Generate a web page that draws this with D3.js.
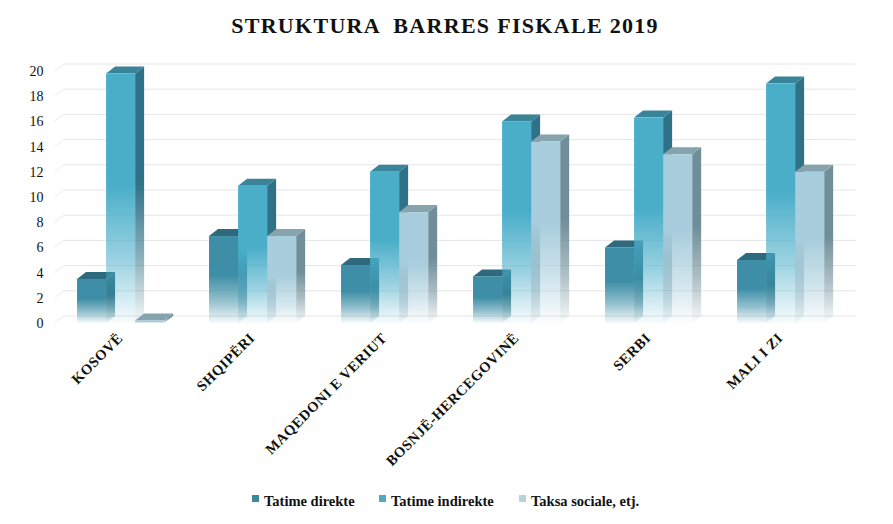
<!DOCTYPE html>
<html>
<head>
<meta charset="utf-8">
<script src="https://cdn.jsdelivr.net/npm/d3@7"></script>
<style>
  body { margin: 0; background: #fff; }
  svg text { font-family: "Liberation Serif", "DejaVu Serif", serif; fill: #111; }
</style>
</head>
<body>
<svg id="chart"></svg>
<script>
const WIDTH = 893;
const HEIGHT = 524;
const LEFT = 54.6;
const RIGHT = 846.6;
const TOP = 71;
const BOTTOM = 323;
const DEPTH_X = 9;
const DEPTH_Y = 7;
const SERIF = '"Liberation Serif", "DejaVu Serif", serif';

const countries = ['KOSOVË', 'SHQIPËRI', 'MAQEDONI E VERIUT', 'BOSNJË-HERCEGOVINË', 'SERBI', 'MALI I ZI'];
const seriesNames = ['Tatime direkte', 'Tatime indirekte', 'Taksa sociale, etj.'];
const tatimeDirekte = [3.5, 6.9, 4.6, 3.7, 6.0, 5.0];
const tatimeIndirekte = [19.8, 10.9, 12.0, 16.0, 16.3, 19.0];
const taksaSociale = [0.2, 6.9, 8.8, 14.4, 13.4, 12.0];
const yTicks = [0, 2, 4, 6, 8, 10, 12, 14, 16, 18, 20];

// front, side, top colours per series
const palette = [
    { front: '#3d8ea6', side: '#2c6d80', top: '#2d6a7d', legend: '#3a8a9e' },
    { front: '#4aaec9', side: '#2f7186', top: '#3a8499', legend: '#52a8be' },
    { front: '#a8cddc', side: '#6f8e99', top: '#86a3ae', legend: '#b7d3dc' }
];

const rows = countries.map((c, i) => ({
    country: c,
    values: [tatimeDirekte[i], tatimeIndirekte[i], taksaSociale[i]]
}));

const svg = d3.select('#chart').attr('width', WIDTH).attr('height', HEIGHT);
const defs = svg.append('defs');

palette.forEach((p, i) => {
    ['front', 'side'].forEach(face => {
        const g = defs.append('linearGradient')
            .attr('id', `grad-${face}-${i}`)
            .attr('x1', 0).attr('y1', 0).attr('x2', 0).attr('y2', 1);
        g.append('stop').attr('offset', '0%').attr('stop-color', p[face]);
        g.append('stop').attr('offset', '45%').attr('stop-color', p[face]);
        g.append('stop').attr('offset', '75%').attr('stop-color', p[face]).attr('stop-opacity', 0.55);
        g.append('stop').attr('offset', '100%').attr('stop-color', p[face]).attr('stop-opacity', 0.04);
    });
});

const x = d3.scaleBand().domain(countries).range([LEFT, RIGHT]).paddingInner(0.34).paddingOuter(0.17);
const xInner = d3.scaleBand().domain(d3.range(3)).range([0, x.bandwidth()]);
const y = d3.scaleLinear().domain([0, 20]).range([BOTTOM, TOP]);

// title
svg.append('text')
    .attr('x', 445).attr('y', 33)
    .attr('text-anchor', 'middle')
    .attr('font-family', SERIF)
    .attr('font-size', 22).attr('font-weight', 'bold')
    .attr('letter-spacing', 1.3)
    .style('white-space', 'pre')
    .text('STRUKTURA  BARRES FISKALE 2019');

// back wall gridlines
const grid = svg.append('g');
yTicks.forEach(t => {
    grid.append('line')
        .attr('x1', LEFT + DEPTH_X).attr('x2', RIGHT + DEPTH_X)
        .attr('y1', y(t) - DEPTH_Y).attr('y2', y(t) - DEPTH_Y)
        .attr('stroke', '#e6e6e6');
    grid.append('line')
        .attr('x1', LEFT).attr('x2', LEFT + DEPTH_X)
        .attr('y1', y(t)).attr('y2', y(t) - DEPTH_Y)
        .attr('stroke', '#ececec');
});

// y axis labels
const yAxis = svg.append('g')
    .attr('transform', `translate(${LEFT - 11},0)`)
    .call(d3.axisLeft(y).tickValues(yTicks).tickSize(0).tickPadding(0));
yAxis.select('.domain').remove();
yAxis.selectAll('text')
    .attr('font-family', SERIF)
    .attr('font-size', 14)
    .attr('fill', '#111');

// bars
const groups = svg.selectAll('.country')
    .data(rows)
    .join('g')
    .attr('class', 'country')
    .attr('transform', d => `translate(${x(d.country)},0)`);

groups.each(function(d) {
    const g = d3.select(this);
    d.values.forEach((v, i) => {
        const x0 = xInner(i);
        const w = xInner.bandwidth();
        const yt = y(v);
        const yb = y(0);
        const bar = g.append('g');
        // side face
        bar.append('path')
            .attr('d', `M${x0 + w},${yt} L${x0 + w + DEPTH_X},${yt - DEPTH_Y} L${x0 + w + DEPTH_X},${yb - DEPTH_Y} L${x0 + w},${yb} Z`)
            .attr('fill', `url(#grad-side-${i})`);
        // top face
        bar.append('path')
            .attr('d', `M${x0},${yt} L${x0 + DEPTH_X},${yt - DEPTH_Y} L${x0 + w + DEPTH_X},${yt - DEPTH_Y} L${x0 + w},${yt} Z`)
            .attr('fill', palette[i].top);
        // front face
        bar.append('rect')
            .attr('x', x0).attr('y', yt)
            .attr('width', w).attr('height', Math.max(yb - yt, 0.5))
            .attr('fill', `url(#grad-front-${i})`);
    });
});

// category labels, rotated
svg.append('g')
    .selectAll('text')
    .data(countries)
    .join('text')
    .attr('transform', d => `translate(${x(d) + x.bandwidth() / 2 + 3},${BOTTOM + 16}) rotate(-45)`)
    .attr('text-anchor', 'end')
    .attr('font-family', SERIF)
    .attr('font-size', 14.5)
    .attr('font-weight', 'bold')
    .attr('letter-spacing', 0.5)
    .text(d => d);

// legend
const legendX = [252, 379, 519];
const legend = svg.append('g')
    .selectAll('g')
    .data(seriesNames)
    .join('g')
    .attr('transform', (d, i) => `translate(${legendX[i]},500)`);
legend.append('rect')
    .attr('x', 0).attr('y', -5)
    .attr('width', 7).attr('height', 7)
    .attr('fill', (d, i) => palette[i].legend);
legend.append('text')
    .attr('x', 12).attr('y', 2)
    .attr('dy', '0.3em')
    .attr('font-family', SERIF)
    .attr('font-size', 14.5)
    .attr('font-weight', 'bold')
    .text(d => d);
</script>
</body>
</html>
